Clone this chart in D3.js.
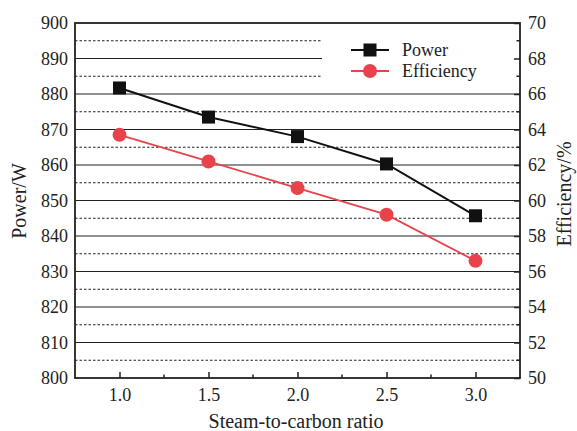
<!DOCTYPE html>
<html><head><meta charset="utf-8">
<script src="https://cdn.jsdelivr.net/npm/d3@7"></script>
<style>body{margin:0;background:#fff}svg{display:block}</style>
</head><body>
<script>
const ratios = [1.0, 1.5, 2.0, 2.5, 3.0];
const power = [881.7, 873.5, 868.0, 860.3, 845.7];
const efficiency = [63.7, 62.2, 60.7, 59.2, 56.6];
const xTicks = [1.0, 1.5, 2.0, 2.5, 3.0];
const leftTicks = [800, 810, 820, 830, 840, 850, 860, 870, 880, 890, 900];
const rightTicks = [50, 52, 54, 56, 58, 60, 62, 64, 66, 68, 70];
const seriesNames = ["Power", "Efficiency"];

const FONT = "'Liberation Serif', 'Times New Roman', Times, serif";
const W = 577, H = 431;
const m = {l: 75, r: 520, t: 23, b: 378};
const svg = d3.select("body").append("svg").attr("width", W).attr("height", H);

const x = d3.scaleLinear().domain([0.75, 3.25]).range([m.l, m.r]);
const yL = d3.scaleLinear().domain([800, 900]).range([m.b, m.t]);
const yR = d3.scaleLinear().domain([50, 70]).range([m.b, m.t]);

// grid
const g = svg.append("g");
d3.range(805, 900, 5).forEach(v => {
  const solid = v % 10 === 0;
  g.append("line").attr("x1", m.l).attr("x2", m.r).attr("y1", yL(v)).attr("y2", yL(v))
    .attr("stroke", "#222").attr("stroke-width", 1.2)
    .attr("stroke-dasharray", solid ? null : "2.5,2");
});

// legend box (white) covers grid
svg.append("rect").attr("x", 322).attr("y", m.t + 1).attr("width", m.r - 322 - 1).attr("height", 62).attr("fill", "#fff");

// axes
const axL = d3.axisLeft(yL).tickValues(leftTicks).tickSize(0).tickPadding(7).tickFormat(d3.format("d"));
const axR = d3.axisRight(yR).tickValues(rightTicks).tickSize(-6).tickPadding(8).tickFormat(d3.format("d"));
const axB = d3.axisBottom(x).tickValues(xTicks).tickSize(-6).tickPadding(12).tickFormat(d3.format(".1f"));

function style(sel){
  sel.attr("font-family", null).attr("font-size", null);
  sel.select(".domain").remove();
  sel.selectAll("line").attr("stroke", "#222").attr("stroke-width", 1.5);
  sel.selectAll("text").style("font-family", FONT).style("font-size", "18px").attr("fill", "#222");
}
svg.append("g").attr("transform", `translate(${m.l},0)`).call(axL).call(style);
svg.append("g").attr("transform", `translate(${m.r},0)`).call(axR).call(style);
const gb = svg.append("g").attr("transform", `translate(0,${m.b})`).call(axB).call(style);
gb.selectAll("text").attr("dy", null).attr("y", 23);

// minor ticks
const minorX = [1.25, 1.75, 2.25, 2.75];
svg.append("g").selectAll("line").data(minorX).join("line")
  .attr("x1", d => x(d)).attr("x2", d => x(d)).attr("y1", m.b).attr("y2", m.b - 3.5)
  .attr("stroke", "#222").attr("stroke-width", 1.5);
const minorR = [51, 53, 55, 57, 59, 61, 63, 65, 67, 69];
svg.append("g").selectAll("line").data(minorR).join("line")
  .attr("x1", m.r).attr("x2", m.r - 3.5).attr("y1", d => yR(d)).attr("y2", d => yR(d))
  .attr("stroke", "#222").attr("stroke-width", 1.5);

// frame
svg.append("rect").attr("x", m.l).attr("y", m.t).attr("width", m.r - m.l).attr("height", m.b - m.t)
  .attr("fill", "none").attr("stroke", "#222").attr("stroke-width", 1.8);

const red = "#e8434c";
const pData = ratios.map((r, i) => [r, power[i]]);
const eData = ratios.map((r, i) => [r, efficiency[i]]);

svg.append("path").datum(eData).attr("fill", "none").attr("stroke", red).attr("stroke-width", 1.8)
  .attr("d", d3.line().x(d => x(d[0])).y(d => yR(d[1])));
svg.append("path").datum(pData).attr("fill", "none").attr("stroke", "#111").attr("stroke-width", 2)
  .attr("d", d3.line().x(d => x(d[0])).y(d => yL(d[1])));

svg.append("g").selectAll("rect").data(pData).join("rect")
  .attr("x", d => x(d[0]) - 6.5).attr("y", d => yL(d[1]) - 6.5).attr("width", 13).attr("height", 13).attr("fill", "#111");
svg.append("g").selectAll("circle").data(eData).join("circle")
  .attr("cx", d => x(d[0])).attr("cy", d => yR(d[1])).attr("r", 7).attr("fill", red);

// legend
const lg = svg.append("g");
const legY = [50, 71];
seriesNames.forEach((name, i) => {
  const yy = legY[i];
  const c = i === 0 ? "#111" : red;
  lg.append("line").attr("x1", 351).attr("x2", 389).attr("y1", yy).attr("y2", yy).attr("stroke", c).attr("stroke-width", 2);
  if (i === 0) lg.append("rect").attr("x", 370 - 6.5).attr("y", yy - 6.5).attr("width", 13).attr("height", 13).attr("fill", c);
  else lg.append("circle").attr("cx", 370).attr("cy", yy).attr("r", 7).attr("fill", c);
  lg.append("text").attr("x", 402).attr("y", yy).attr("dy", "0.35em").style("font-family", FONT).style("font-size", "18px").attr("fill", "#222").text(name);
});

// titles
svg.append("text").attr("x", 296).attr("y", 428).attr("text-anchor", "middle").style("font-family", FONT).style("font-size", "20px").attr("fill", "#222").text("Steam-to-carbon ratio");
svg.append("text").attr("transform", "translate(26,201) rotate(-90)").attr("text-anchor", "middle").style("font-family", FONT).style("font-size", "20px").attr("fill", "#222").text("Power/W");
svg.append("text").attr("transform", "translate(571,194) rotate(-90)").attr("text-anchor", "middle").style("font-family", FONT).style("font-size", "20px").attr("fill", "#222").text("Efficiency/%");
</script>
</body></html>
